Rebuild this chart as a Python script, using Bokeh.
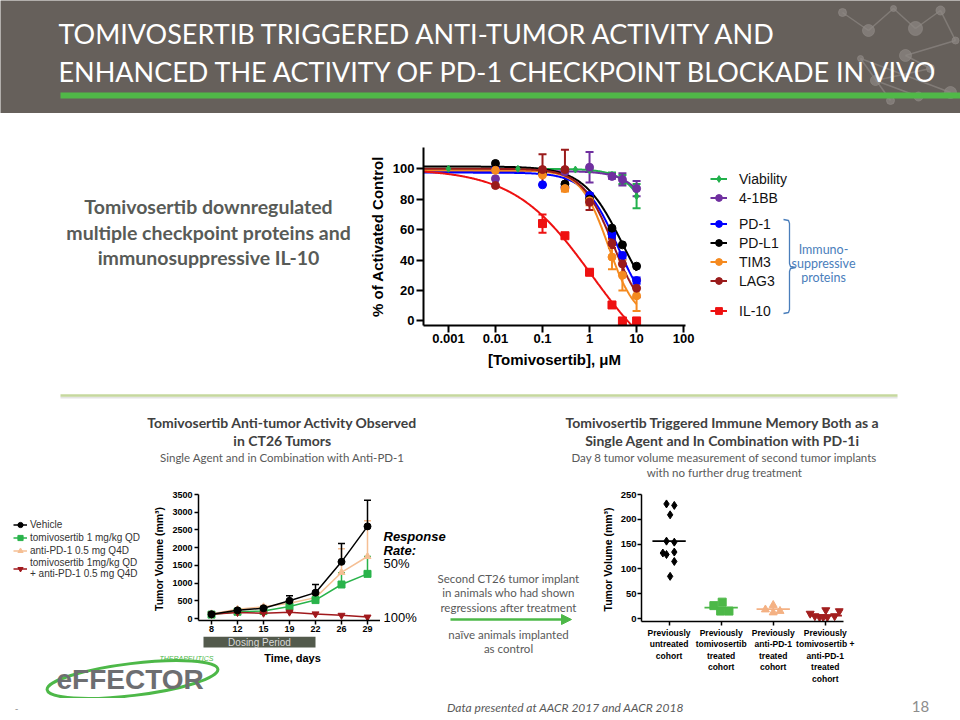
import numpy as np
from bokeh.plotting import figure
from bokeh.layouts import column, row
from bokeh.models import (Range1d, FactorRange, ColumnDataSource, Whisker, TeeHead,
                          Legend, LegendItem, FixedTicker, CustomJSTickFormatter,
                          Arrow, NormalHead)
from bokeh.core.properties import value
from bokeh.embed import file_html
from bokeh.resources import INLINE

ARIAL = "Liberation Sans"
CAL = "Lato"

# ---------------- Dose response data (uM, % of activated control) ----------------
conc = [0.01, 0.1, 0.3, 1, 3, 5, 10]
viab_conc = [0.001, 0.03, 0.5, 1, 3, 5, 10]
viability = [100, 100, 99.5, 99, 96, 93, 82]
viability_err = [0, 0, 0, 1, 1.5, 3, 8]
bb41 = [93.5, 97, 98, 101, 95, 93, 87]
bb41_err = [0, 0, 0, 10, 1.5, 4, 5]
pd1 = [100, 89.5, 88, 82.5, 57, 43, 26.5]
pd1_err = [0, 0, 2, 1.5, 2, 2, 2]
pdl1 = [103.5, 97, 90, 80, 61, 50, 36]
pdl1_err = [0, 0, 0, 0, 0, 0, 0]
tim3 = [99, 96, 87, 79, 42, 30, 16.5]
tim3_err = [0, 0, 2, 3, 8, 10, 10]
lag3 = [89, 99.5, 99.5, 78, 51, 37.5, 21.5]
lag3_err = [0, 10, 13, 5, 3, 6, 6]
il10_conc = [0.1, 0.3, 1, 3, 5, 10]
il10 = [64, 56, 32, 10.5, 0, 0]
il10_err = [6, 0, 0, 0, 0, 0]
# fitted curve parameters: (top, bottom, IC50, hill)
fit_viability = (100, 0, 34, 1.34)
fit_bb41 = (98.5, 0, 45, 1.3)
fit_pd1 = (97.5, 0, 4.0, 1.24)
fit_pdl1 = (101.5, 0, 5.0, 1.05)
fit_tim3 = (99, 0, 2.5, 1.5)
fit_lag3 = (100, 0, 3.2, 1.3)
fit_il10 = (100, -40, 1.12, 0.523)
dose_ticks = [0.001, 0.01, 0.1, 1, 10, 100]

# ---------------- Tumor growth data (mm3) ----------------
days = ["8", "12", "15", "19", "22", "26", "29"]
vehicle = [120, 230, 290, 500, 730, 1600, 2600]
vehicle_err = [0, 30, 40, 140, 230, 520, 740]
tomi = [110, 190, 210, 340, 520, 960, 1260]
tomi_err = [0, 20, 30, 60, 60, 330, 490]
apd1 = [130, 260, 330, 430, 590, 1300, 1750]
apd1_err = [0, 30, 40, 60, 60, 670, 1010]
combo = [120, 170, 150, 180, 130, 90, 40]
combo_err = [0, 0, 0, 30, 0, 0, 0]

# ---------------- Rechallenge data (day 8 tumor volume, mm3) ----------------
cohorts = ["Previously\nuntreated\ncohort",
           "Previously\ntomivosertib\ntreated\ncohort",
           "Previously\nanti-PD-1\ntreated\ncohort",
           "Previously\ntomivosertib +\nanti-PD-1\ntreated\ncohort"]
untreated_vals = [231, 228, 209, 156, 154, 132, 129, 134, 115, 85]
untreated_jit = [-0.05, 0.1, 0.02, -0.05, 0.1, -0.12, -0.05, 0.1, 0.1, 0.02]
tomi_vals = [26, 33, 15, 15]
tomi_jit = [-0.14, 0.02, -0.01, 0.15]
apd1_vals = [18, 27, 12, 15]
apd1_jit = [-0.15, 0.0, 0.0, 0.13]
combo_vals = [10, 5, 3, 3, 3, 17, 5, 15]
combo_jit = [-0.29, -0.2, -0.11, -0.04, 0.04, 0.01, 0.18, 0.27]
medians = [156, 22, 19, 6]


def canvas(w, h, bg="white"):
    p = figure(width=w, height=h, x_range=Range1d(0, w), y_range=Range1d(h, 0),
               x_axis_location=None, y_axis_location=None, toolbar_location=None,
               output_backend="svg", min_border=0, frame_align=False)
    p.grid.grid_line_color = None
    p.outline_line_color = None
    p.background_fill_color = bg
    p.border_fill_color = bg
    return p


def txt(p, x, y, s, size, color="#595959", font=CAL, style="normal",
        align="center", baseline="middle"):
    p.text(x=[x], y=[y], text=[s], text_font=value(font), text_font_size=f"{size}px",
           text_font_style=style, text_color=color, text_align=align,
           text_baseline=baseline)


def style_axes(p, size, label_size, lw=2, tick_out=6):
    p.grid.grid_line_color = None
    p.outline_line_color = None
    for ax in p.axis:
        ax.axis_line_color = "black"
        ax.axis_line_width = lw
        ax.major_tick_line_color = "black"
        ax.major_tick_line_width = lw
        ax.minor_tick_line_color = None
        ax.major_tick_in = 0
        ax.major_tick_out = tick_out
        ax.major_label_text_font = ARIAL
        ax.major_label_text_font_style = "bold"
        ax.major_label_text_color = "black"
        ax.major_label_text_font_size = f"{size}px"
        ax.axis_label_text_font = ARIAL
        ax.axis_label_text_font_style = "bold"
        ax.axis_label_text_font_size = f"{label_size}px"
        ax.axis_label_text_color = "black"


def legend_swatch(p, col, mk, sz, lw):
    # renderers only used to draw legend swatches (kept outside the visible canvas)
    rl = p.line(x=[-60, -50], y=[-60, -60], line_color=col, line_width=lw)
    rs = p.scatter(x=[-55], y=[-60], marker=mk, size=sz, fill_color=col, line_color=col)
    return [rl, rs]


# ======================= HEADER =======================
H = canvas(960, 113, "#66605b")
mol_x = [842, 868, 893, 915, 940, 955, 905, 930, 875, 918, 950, 860, 890]
mol_y = [12, 30, 8, 28, 10, 40, 55, 68, 80, 96, 92, 58, 100]
H.segment(x0=mol_x[:-1], y0=mol_y[:-1], x1=mol_x[1:], y1=mol_y[1:],
          line_color="#8d8883", line_width=1.5, line_alpha=0.7)
H.scatter(x=mol_x, y=mol_y, size=[8, 12, 6, 14, 9, 7, 12, 8, 10, 9, 12, 6, 8],
          color="#8d8883", alpha=0.7)
txt(H, 58, 33, "TOMIVOSERTIB TRIGGERED ANTI-TUMOR ACTIVITY AND", 27, "white", align="left")
txt(H, 58, 71, "ENHANCED THE ACTIVITY OF PD-1 CHECKPOINT BLOCKADE IN VIVO", 27, "white", align="left")
H.quad(left=[60], right=[960], top=[92], bottom=[98], color="#50b848", line_color=None)

# ======================= ROW 2 =======================
B1 = canvas(365, 279)
txt(B1, 208, 93, "Tomivosertib downregulated", 19.5, "#585b57", style="bold")
txt(B1, 208, 119, "multiple checkpoint proteins and", 19.5, "#585b57", style="bold")
txt(B1, 208, 144, "immunosuppressive IL-10", 19.5, "#585b57", style="bold")

B2 = figure(width=335, height=279, x_axis_type="log",
            x_range=Range1d(10 ** -3.53, 10 ** 2.04), y_range=Range1d(-3, 114),
            toolbar_location=None, output_backend="svg", frame_align=False,
            min_border_left=57, min_border_right=15, min_border_top=34, min_border_bottom=67)
style_axes(B2, 13, 15, lw=2, tick_out=7)
B2.xaxis.ticker = FixedTicker(ticks=dose_ticks, minor_ticks=[])
B2.xaxis.formatter = CustomJSTickFormatter(code="return String(tick)")
B2.yaxis.ticker = FixedTicker(ticks=[0, 20, 40, 60, 80, 100], minor_ticks=[])
B2.xaxis.axis_label = "[Tomivosertib], \u03bcM"
B2.yaxis.axis_label = "% of Activated Control"
B2.xaxis.major_label_standoff = 1
B2.yaxis.major_label_standoff = 2
B2.xaxis.axis_label_standoff = 5
B2.yaxis.axis_label_standoff = 4

dose_series = [
    ("Viability", viab_conc, viability, viability_err, fit_viability, "#22b14c", "diamond", 7),
    ("4-1BB", conc, bb41, bb41_err, fit_bb41, "#7030a0", "circle", 8),
    ("PD-1", conc, pd1, pd1_err, fit_pd1, "#0000ff", "circle", 8),
    ("PD-L1", conc, pdl1, pdl1_err, fit_pdl1, "#000000", "circle", 8),
    ("TIM3", conc, tim3, tim3_err, fit_tim3, "#f58a1f", "circle", 8),
    ("LAG3", conc, lag3, lag3_err, fit_lag3, "#9a1b1b", "circle", 8),
    ("IL-10", il10_conc, il10, il10_err, fit_il10, "#ee1111", "square", 8),
]
xs_curve = np.logspace(-3.53, 1.0, 300)
for name, cx, vals, errs, fit, col, mk, sz in dose_series:
    top, bot, ic50, hill = fit
    yc = bot + (top - bot) / (1 + (xs_curve / ic50) ** hill)
    B2.line(xs_curve, yc, line_color=col, line_width=2)
for name, cx, vals, errs, fit, col, mk, sz in dose_series:
    ex = [c for c, e in zip(cx, errs) if e > 0]
    ev = [v for v, e in zip(vals, errs) if e > 0]
    ee = [e for e in errs if e > 0]
    if ex:
        src = ColumnDataSource(dict(x=ex, lo=[v - e for v, e in zip(ev, ee)],
                                    hi=[v + e for v, e in zip(ev, ee)]))
        B2.add_layout(Whisker(source=src, base="x", lower="lo", upper="hi",
                              line_color=col, line_width=2,
                              upper_head=TeeHead(size=8, line_color=col, line_width=2),
                              lower_head=TeeHead(size=8, line_color=col, line_width=2)))
    B2.scatter(cx, vals, marker=mk, size=sz, fill_color=col, line_color=col)

B3 = canvas(260, 279)
groups = [(dose_series[0:2], 185), (dose_series[2:6], 102), (dose_series[6:7], 72)]
for grp, ybot in groups:
    items = []
    for name, cx, vals, errs, fit, col, mk, sz in grp:
        items.append(LegendItem(label=name, renderers=legend_swatch(B3, col, mk, sz, 2)))
    lg = Legend(items=items, location=(10, ybot), glyph_width=17, glyph_height=19,
                label_height=19, label_standoff=12, spacing=0, padding=0, margin=0,
                border_line_color=None, background_fill_alpha=0,
                label_text_font=ARIAL, label_text_font_size="14px",
                label_text_color="#111111")
    B3.add_layout(lg)
brace_x = [83, 88, 89, 89, 90, 95, 90, 89, 89, 88, 83]
brace_y = [106, 107, 110, 150, 153, 154, 155, 158, 196, 199, 200]
B3.line(brace_x, brace_y, line_color="#4a7ebb", line_width=1.3)
txt(B3, 123, 136, "Immuno-", 12.5, "#4a7ebb")
txt(B3, 123, 150, "suppressive", 12.5, "#4a7ebb")
txt(B3, 123, 164, "proteins", 12.5, "#4a7ebb")

# ======================= SEPARATOR + TITLES =======================
D = canvas(960, 88)
D.segment(x0=[60], y0=[5], x1=[897], y1=[5], line_color="#e4e4e4", line_width=2)
D.segment(x0=[60], y0=[3], x1=[897], y1=[3], line_color="#c6d89e", line_width=2.5)
txt(D, 282, 30, "Tomivosertib Anti-tumor Activity Observed", 14, "#404040", style="bold")
txt(D, 282, 48, "in CT26 Tumors", 14, "#404040", style="bold")
txt(D, 282, 65, "Single Agent and in Combination with Anti-PD-1", 11.5, "#595959")
txt(D, 722, 30, "Tomivosertib Triggered Immune Memory Both as a", 14, "#404040", style="bold")
txt(D, 722, 48, "Single Agent and In Combination with PD-1i", 14, "#404040", style="bold")
txt(D, 724, 65, "Day 8 tumor volume measurement of second tumor implants", 11.5, "#595959")
txt(D, 724, 80, "with no further drug treatment", 11.5, "#595959")

# ======================= TUMOR GROWTH CHART =======================
C1 = figure(width=230, height=156, x_range=FactorRange(*days), y_range=Range1d(-56, 3500),
            toolbar_location=None, output_backend="svg", frame_align=False,
            min_border_left=42, min_border_right=0, min_border_top=14, min_border_bottom=16)
style_axes(C1, 9, 10.5, lw=1.5, tick_out=4)
C1.yaxis.ticker = FixedTicker(ticks=list(range(0, 3501, 500)), minor_ticks=[])
C1.yaxis.axis_label = "Tumor Volume  (mm\u00b3)"
C1.yaxis.major_label_standoff = 2
C1.yaxis.axis_label_standoff = 4
C1.xaxis.major_label_standoff = 1

growth_series = [
    ("anti-PD-1 0.5 mg Q4D", apd1, apd1_err, "#f5bf94", "triangle"),
    ("tomivosertib 1 mg/kg QD", tomi, tomi_err, "#29b34a", "square"),
    ("tomivosertib 1mg/kg QD\n+ anti-PD-1 0.5 mg Q4D", combo, combo_err, "#a0181c", "inverted_triangle"),
    ("Vehicle", vehicle, vehicle_err, "#000000", "circle"),
]
for name, vals, errs, col, mk in growth_series:
    C1.line(days, vals, line_color=col, line_width=1.5)
    ex = [d for d, e in zip(days, errs) if e > 0]
    ev = [v for v, e in zip(vals, errs) if e > 0]
    ee = [e for e in errs if e > 0]
    if ex:
        src = ColumnDataSource(dict(x=ex, lo=ev, hi=[v + e for v, e in zip(ev, ee)]))
        C1.add_layout(Whisker(source=src, base="x", lower="lo", upper="hi",
                              line_color=col, line_width=1.5, lower_head=None,
                              upper_head=TeeHead(size=7, line_color=col, line_width=1.5)))
    C1.scatter(days, vals, marker=mk, size=7, fill_color=col, line_color=col)

C0 = canvas(150, 156)
legend_order = [growth_series[3], growth_series[1], growth_series[0], growth_series[2]]
items = []
for name, vals, errs, col, mk in legend_order:
    items.append(LegendItem(label=name, renderers=legend_swatch(C0, col, mk, 6, 1.5)))
C0.add_layout(Legend(items=items, location=(13, 57), glyph_width=14, glyph_height=13,
                     label_height=13, label_standoff=3, spacing=0, padding=0, margin=0,
                     border_line_color=None, background_fill_alpha=0,
                     label_text_font=ARIAL, label_text_font_size="10px",
                     label_text_color="#333333"))

L2 = canvas(380, 62)
L2.quad(left=[203], right=[315], top=[0], bottom=[11], color="#535a4c", line_color=None)
txt(L2, 259, 5.5, "Dosing Period", 10, "#d9d9d9", font=ARIAL)
txt(L2, 292, 21, "Time, days", 11, "black", font=ARIAL, style="bold")
# company logo (decoration)
L2.ellipse(x=[132], y=[43], width=[172], height=[32], angle=[0.12],
           fill_color=None, line_color="#4db848", line_width=3)
txt(L2, 56, 43, "eFFECTOR", 28, "#6d6e71", font=ARIAL, style="bold", align="left")
txt(L2, 186, 22, "THERAPEUTICS", 7, "#4db848", font=ARIAL, style="italic")

# ======================= MIDDLE TEXT =======================
C2 = canvas(200, 218)
txt(C2, 3, 56, "Response", 13, "black", font=ARIAL, style="bold italic", align="left")
txt(C2, 3, 70, "Rate:", 13, "black", font=ARIAL, style="bold italic", align="left")
txt(C2, 3, 83, "50%", 13, "black", font=ARIAL, align="left")
txt(C2, 3, 137, "100%", 13, "black", font=ARIAL, align="left")
txt(C2, 128, 98, "Second CT26 tumor implant", 11.5, "#595959")
txt(C2, 128, 112, "in animals who had shown", 11.5, "#595959")
txt(C2, 128, 127, "regressions after treatment", 11.5, "#595959")
C2.add_layout(Arrow(end=NormalHead(size=10, fill_color="#4db848", line_color="#4db848"),
                    x_start=70, y_start=139, x_end=191, y_end=139,
                    line_color="#4db848", line_width=2.5))
txt(C2, 128, 154, "na\u00efve animals implanted", 11.5, "#595959")
txt(C2, 128, 168, "as control", 11.5, "#595959")

# ======================= RECHALLENGE CHART =======================
C3 = figure(width=380, height=218, x_range=Range1d(0.47, 4.35), y_range=Range1d(-6, 250),
            toolbar_location=None, output_backend="svg", frame_align=False,
            min_border_left=61, min_border_right=117, min_border_top=14, min_border_bottom=77)
style_axes(C3, 9.5, 10.5, lw=1.5, tick_out=4)
C3.yaxis.ticker = FixedTicker(ticks=[0, 50, 100, 150, 200, 250], minor_ticks=[])
C3.xaxis.ticker = FixedTicker(ticks=[1, 2, 3, 4], minor_ticks=[])
C3.xaxis.major_label_overrides = {i + 1: c for i, c in enumerate(cohorts)}
C3.xaxis.major_label_text_font_size = "8.5px"
C3.xaxis.major_label_text_line_height = 1.15
C3.xaxis.major_label_standoff = 2
C3.yaxis.major_label_standoff = 1
C3.yaxis.axis_label = "Tumor Volume  (mm\u00b3)"
C3.yaxis.axis_label_standoff = 4

scatter_groups = [
    (untreated_vals, untreated_jit, "#000000", "diamond", 8),
    (tomi_vals, tomi_jit, "#4db848", "square", 8),
    (apd1_vals, apd1_jit, "#f4b183", "triangle", 8),
    (combo_vals, combo_jit, "#a31f1f", "inverted_triangle", 8),
]
for i, (vals, jit, col, mk, sz) in enumerate(scatter_groups):
    pos = i + 1
    C3.segment(x0=[pos - 0.32], x1=[pos + 0.32], y0=[medians[i]], y1=[medians[i]],
               line_color=col, line_width=1.8)
    C3.scatter([pos + j for j in jit], vals, marker=mk, size=sz, fill_color=col, line_color=col)

# ======================= FOOTER =======================
F = canvas(960, 22)
txt(F, 565, 9, "Data presented at AACR 2017 and AACR 2018", 12, "#595959", style="italic")
txt(F, 920, 8, "18", 15, "#8c8c8c")
txt(F, 16, 10, "-", 10, "#8c8c8c")

layout = column(
    H,
    row(B1, B2, B3),
    D,
    row(column(row(C0, C1), L2), C2, C3),
    F,
)

open("out.html", "w").write(file_html(layout, INLINE))
